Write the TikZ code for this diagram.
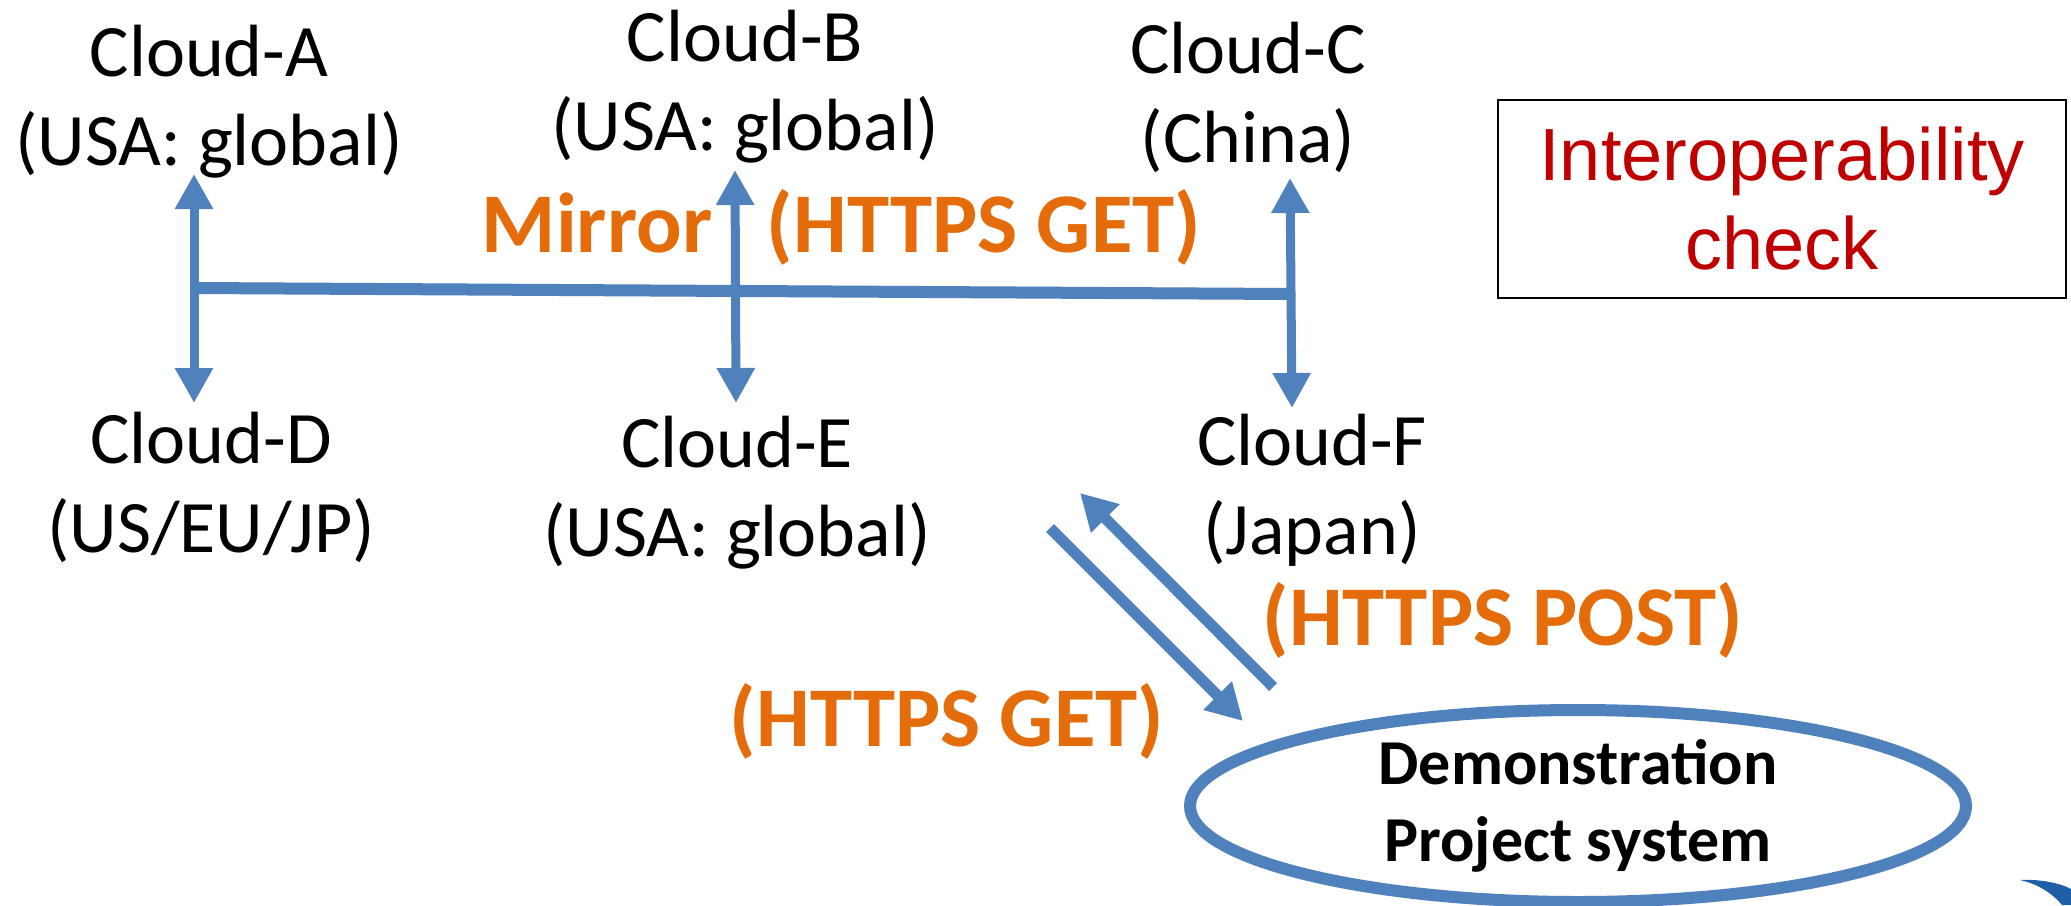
\documentclass[tikz,border=0pt]{standalone}
\usepackage{fontspec}
\setmainfont{Carlito}
\newfontfamily\arialf{Liberation Sans}
\usetikzlibrary{arrows.meta,shapes.geometric}
\definecolor{lblue}{HTML}{4F81BD}
\definecolor{orng}{HTML}{E46C0A}
\definecolor{dred}{HTML}{C00000}
\definecolor{logob}{HTML}{1F5FA8}
\begin{document}
\begin{tikzpicture}[x=1pt,y=-1pt,
  cloudtxt/.style={font=\fontsize{74}{89}\selectfont, align=center, inner sep=0pt},
  lbl/.style={font=\bfseries\fontsize{85}{100}\selectfont, text=orng, inner sep=0pt, anchor=base},
  tipA/.style={Triangle[width=36pt,length=35pt]},
  dlink/.style={draw=lblue, line width=9pt, {Triangle[width=36pt,length=35pt]}-{Triangle[width=36pt,length=35pt]}},
  slink/.style={draw=lblue, line width=11pt, -{Triangle[width=38pt,length=36pt]}},
  bus/.style={draw=lblue, line width=12pt},
  sysnode/.style={ellipse, draw=lblue, line width=12pt, minimum width=776pt, minimum height=192pt, inner sep=0pt,
     align=center, font=\bfseries\fontsize{64}{77}\selectfont},
  checkbox/.style={draw=black, line width=2.5pt, minimum width=568pt, minimum height=198pt, inner sep=0pt,
     align=center, text=dred, font=\arialf\fontsize{74}{89}\selectfont}
]
\useasboundingbox (0,0) rectangle (2071,905);
\fill[white] (0,0) rectangle (2071,905);

% cloud nodes
\node[cloudtxt] (A) at (209,102) {Cloud-A\\(USA: global)};
\node[cloudtxt] (B) at (745,87) {Cloud-B\\(USA: global)};
\node[cloudtxt] (C) at (1248,97) {Cloud-C\\(China)};
\node[cloudtxt] (D) at (211,487) {Cloud-D\\(US/EU/JP)};
\node[cloudtxt] (E) at (737,493) {Cloud-E\\(USA: global)};
\node[cloudtxt] (F) at (1312,490) {Cloud-F\\(Japan)};

% interoperability box
\node[checkbox] (chk) at (1782,199) {Interoperability\\check};

% system ellipse
\node[sysnode] (sys) at (1578,806) {Demonstration\\Project system};

% connector end points
\coordinate (aT) at (194,174);
\coordinate (aB) at (194,403);
\coordinate (bT) at (735,170);
\coordinate (bB) at (736,403);
\coordinate (cT) at (1290,178);
\coordinate (cB) at (1292,408);
\coordinate (hL) at (194,288);
\coordinate (hR) at (1291,294);
\coordinate (getS) at (1050,528);
\coordinate (getE) at (1243,721);
\coordinate (postS) at (1273,687);
\coordinate (postE) at (1080,493);

\draw[bus] (hL) -- (hR);
\draw[dlink] (aT) -- (aB);
\draw[dlink] (bT) -- (bB);
\draw[dlink] (cT) -- (cB);
\draw[slink] (getS) -- (getE);
\draw[slink] (postS) -- (postE);

% labels
\node[lbl] (mir) at (597,252) {Mirror};
\node[lbl] (mget) at (984,252) {(HTTPS GET)};
\node[lbl] (post) at (1503,645) {(HTTPS POST)};
\node[lbl] (get) at (947,746) {(HTTPS GET)};

% logo fragment
\fill[logob] (2020,880) .. controls (2040,879) and (2060,883) .. (2071,889) -- (2071,905) -- (2062,905)
  .. controls (2052,893) and (2038,884) .. (2020,880) -- cycle;
\end{tikzpicture}
\end{document}
